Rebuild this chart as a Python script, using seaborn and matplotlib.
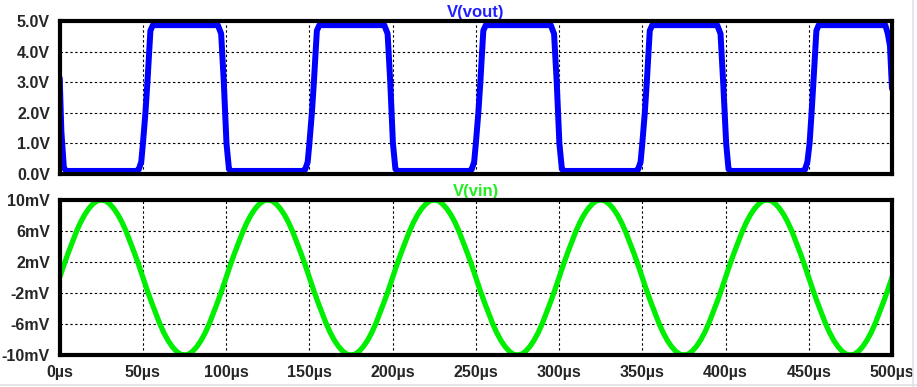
import matplotlib
matplotlib.use("Agg")
import matplotlib.pyplot as plt
from matplotlib.lines import Line2D
import seaborn as sns
import pandas as pd

# ---- data ----
vout_t = [0, 1, 2.5, 4, 46, 47.5, 49, 50, 51.5, 52.7, 53.7, 54.5, 56, 95, 97, 98.6, 100.2, 101.7, 103,
          146, 147.5, 149, 150, 151.5, 152.7, 153.7, 154.5, 156, 195, 197, 198.6, 200.2, 201.7, 203,
          246, 247.5, 249, 250, 251.5, 252.7, 253.7, 254.5, 256, 295, 297, 298.6, 300.2, 301.7, 303,
          346, 347.5, 349, 350, 351.5, 352.7, 353.7, 354.5, 356, 395, 397, 398.6, 400.4, 401.8, 403,
          446, 447.8, 449.2, 450.5, 451.7, 452.8, 453.8, 454.6, 456, 496, 497.5, 498.8, 500]
vout_v = [3.15, 1.4, 0.2, 0.1, 0.1, 0.15, 0.4, 1.0, 2.0, 3.0, 3.95, 4.7, 4.88, 4.88, 4.6, 3.0, 1.0, 0.16, 0.1,
          0.1, 0.15, 0.4, 1.0, 2.0, 3.0, 3.95, 4.7, 4.88, 4.88, 4.6, 3.0, 1.0, 0.16, 0.1,
          0.1, 0.15, 0.4, 1.0, 2.0, 3.0, 3.95, 4.7, 4.88, 4.88, 4.6, 3.0, 1.0, 0.16, 0.1,
          0.1, 0.15, 0.4, 1.0, 2.0, 3.0, 3.95, 4.7, 4.88, 4.88, 4.6, 3.0, 1.0, 0.16, 0.1,
          0.1, 0.15, 0.4, 1.0, 2.0, 3.0, 3.95, 4.7, 4.88, 4.88, 4.6, 4.2, 2.8]

vin_t = [2.5 * i for i in range(201)]
vin_mv = [
    0, 1.6, 3.1, 4.5, 5.9, 7.1, 8.1, 8.9, 9.5, 9.9, 10.0, 9.9, 9.5, 8.9, 8.1, 7.1, 5.9, 4.5, 3.1, 1.6,
    0, -1.6, -3.1, -4.5, -5.9, -7.1, -8.1, -8.9, -9.5, -9.9, -10.0, -9.9, -9.5, -8.9, -8.1, -7.1, -5.9, -4.5, -3.1, -1.6,
    0, 1.6, 3.1, 4.5, 5.9, 7.1, 8.1, 8.9, 9.5, 9.9, 10.0, 9.9, 9.5, 8.9, 8.1, 7.1, 5.9, 4.5, 3.1, 1.6,
    0, -1.6, -3.1, -4.5, -5.9, -7.1, -8.1, -8.9, -9.5, -9.9, -10.0, -9.9, -9.5, -8.9, -8.1, -7.1, -5.9, -4.5, -3.1, -1.6,
    0, 1.6, 3.1, 4.5, 5.9, 7.1, 8.1, 8.9, 9.5, 9.9, 10.0, 9.9, 9.5, 8.9, 8.1, 7.1, 5.9, 4.5, 3.1, 1.6,
    0, -1.6, -3.1, -4.5, -5.9, -7.1, -8.1, -8.9, -9.5, -9.9, -10.0, -9.9, -9.5, -8.9, -8.1, -7.1, -5.9, -4.5, -3.1, -1.6,
    0, 1.6, 3.1, 4.5, 5.9, 7.1, 8.1, 8.9, 9.5, 9.9, 10.0, 9.9, 9.5, 8.9, 8.1, 7.1, 5.9, 4.5, 3.1, 1.6,
    0, -1.6, -3.1, -4.5, -5.9, -7.1, -8.1, -8.9, -9.5, -9.9, -10.0, -9.9, -9.5, -8.9, -8.1, -7.1, -5.9, -4.5, -3.1, -1.6,
    0, 1.6, 3.1, 4.5, 5.9, 7.1, 8.1, 8.9, 9.5, 9.9, 10.0, 9.9, 9.5, 8.9, 8.1, 7.1, 5.9, 4.5, 3.1, 1.6,
    0, -1.6, -3.1, -4.5, -5.9, -7.1, -8.1, -8.9, -9.5, -9.9, -10.0, -9.9, -9.5, -8.9, -8.1, -7.1, -5.9, -4.5, -3.1, -1.6,
    0]

x_ticks = [0, 50, 100, 150, 200, 250, 300, 350, 400, 450, 500]
x_labels = ["0µs", "50µs", "100µs", "150µs", "200µs", "250µs", "300µs", "350µs", "400µs", "450µs", "500µs"]
top_ticks = [0, 1, 2, 3, 4, 5]
top_labels = ["0.0V", "1.0V", "2.0V", "3.0V", "4.0V", "5.0V"]
bot_ticks = [-10, -6, -2, 2, 6, 10]
bot_labels = ["-10mV", "-6mV", "-2mV", "2mV", "6mV", "10mV"]

sns.set_style("white")
plt.rcParams['font.family'] = ['Liberation Sans', 'DejaVu Sans']

fig = plt.figure(figsize=(9.17, 3.87), dpi=100)
ax1 = fig.add_axes([0.0651, 0.5504, 0.9076, 0.3941])
ax2 = fig.add_axes([0.0651, 0.0827, 0.9076, 0.4005])

df_out = pd.DataFrame({"t": vout_t, "v": vout_v})
df_in = pd.DataFrame({"t": vin_t, "v": vin_mv})

sns.lineplot(data=df_out, x="t", y="v", ax=ax1, color="#0000ff", linewidth=4.3,
             estimator=None, sort=False, zorder=3, solid_joinstyle='round', solid_capstyle='round')
sns.lineplot(data=df_in, x="t", y="v", ax=ax2, color="#00ee00", linewidth=3.8,
             estimator=None, sort=False, zorder=3, solid_joinstyle='round', solid_capstyle='round')

for ax, yt, yl, ylim in [(ax1, top_ticks, top_labels, (0, 5)), (ax2, bot_ticks, bot_labels, (-10, 10))]:
    ax.set_xlim(0, 500)
    ax.set_ylim(*ylim)
    ax.set_xticks(x_ticks)
    ax.set_yticks(yt)
    ax.set_yticklabels(yl, fontsize=11.5, fontweight='bold')
    ax.set_xlabel("")
    ax.set_ylabel("")
    ax.grid(True, color="black", linestyle=(0, (2.2, 2.2)), linewidth=0.8)
    for s in ax.spines.values():
        s.set_visible(True)
        s.set_color("black")
        s.set_linewidth(3.0)
        s.set_zorder(4)
    ax.tick_params(axis='y', direction='out', length=7, width=2.4, color='black', pad=0)
    ax.set_facecolor("white")

ax1.tick_params(axis='x', length=0, labelbottom=False)
ax2.set_xticklabels(x_labels, fontsize=11.5, fontweight='bold')
ax2.tick_params(axis='x', direction='out', length=6, width=2.4, color='black', pad=1)

ax1.set_title("V(vout)", color="#2020ff", fontsize=12, fontweight='bold', pad=3)
ax2.set_title("V(vin)", color="#22ee22", fontsize=12, fontweight='bold', pad=3)

fig.add_artist(Line2D([0.9956, 0.9956], [0.0, 1.0], color="#e2e2e2", linewidth=1.2, transform=fig.transFigure))
fig.add_artist(Line2D([0.0, 1.0], [0.004, 0.004], color="#e2e2e2", linewidth=1.2, transform=fig.transFigure))

fig.savefig("out.png", dpi=100)
